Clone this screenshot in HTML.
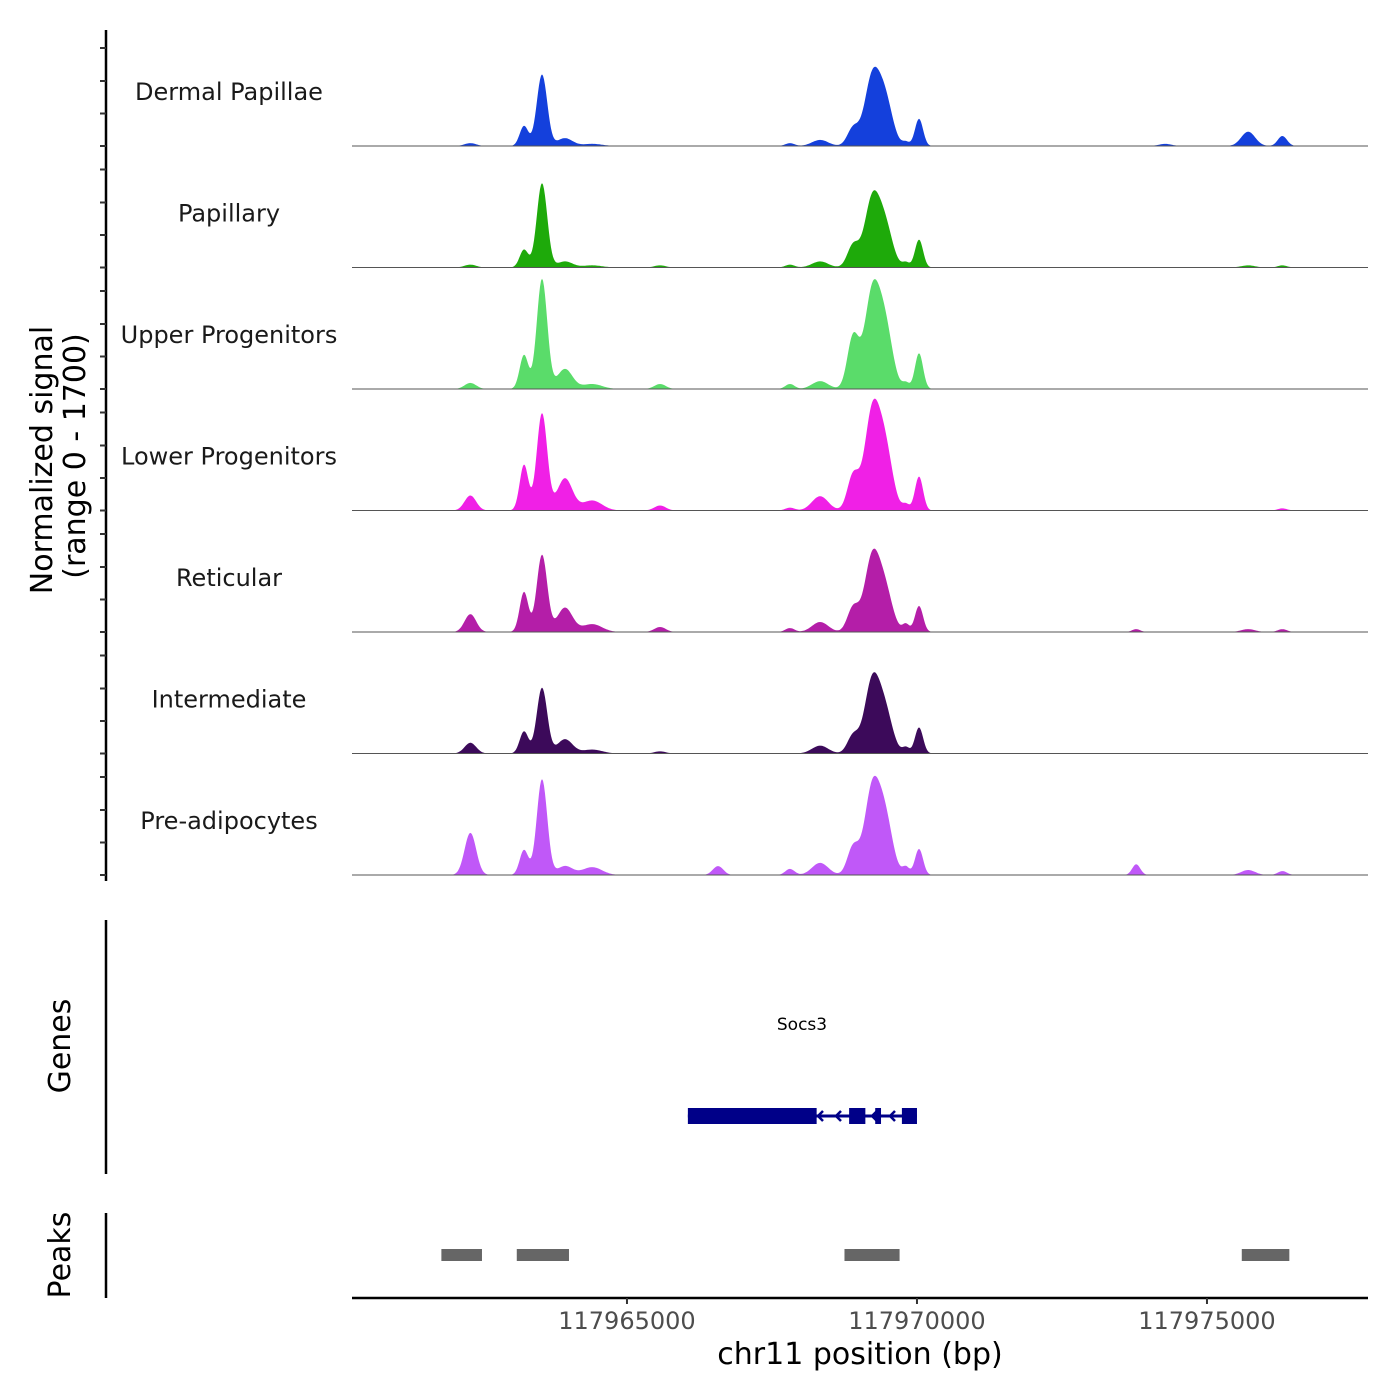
<!DOCTYPE html>
<html><head><meta charset="utf-8"><style>
body{margin:0;background:#fff}
svg{display:block;font-family:"DejaVu Sans","Liberation Sans",sans-serif}
</style></head><body>
<svg id="c" width="1400" height="1400" xmlns="http://www.w3.org/2000/svg"></svg>
<script>
const tracks=["Dermal Papillae","Papillary","Upper Progenitors","Lower Progenitors","Reticular","Intermediate","Pre-adipocytes"];
const colors=["#1440dc","#1eaa0a","#5adc6a","#f020e6","#b41ea8","#3c0a5a","#c058f8"];
const peakPos=[117962300,117963225,117963535,117963930,117964400,117965570,117966570,117967810,117968330,117968900,117969225,117969450,117969810,117970035,117973780,117974280,117975710,117976300];
const peakWidth=[100,75,90,130,170,100,90,80,140,100,130,130,60,70,70,110,120,80];
const sigDP=[40,280,1000,110,30,0,0,40,85,250,920,630,55,380,0,30,200,140];
const sigPap=[40,250,1180,85,30,30,0,40,85,310,920,560,70,390,0,0,30,30];
const sigUP=[85,475,1540,280,70,70,0,70,110,730,1290,840,85,500,0,0,0,0];
const sigLP=[210,640,1360,450,140,70,0,40,200,490,1320,840,85,475,0,0,0,30];
const sigRet=[250,560,1080,340,110,70,0,55,140,340,1010,560,110,365,40,0,40,40];
const sigInt=[150,310,920,200,55,30,0,0,110,250,980,560,85,365,0,0,0,0];
const sigPre=[590,350,1340,125,110,0,125,85,170,390,1160,770,110,365,150,0,70,55];
const signals=[sigDP,sigPap,sigUP,sigLP,sigRet,sigInt,sigPre];
const xTicks=[117965000,117970000,117975000];
const peakStart=[117961800,117963100,117968750,117975600];
const peakEnd=[117962500,117964000,117969700,117976420];
const geneExonStart=[117966050,117968830,117969280,117969740];
const geneExonEnd=[117968270,117969110,117969380,117970000];
const geneStart=117966050, geneEnd=117970000;

const NS="http://www.w3.org/2000/svg";
const svg=document.getElementById('c');
function el(t,a,p){const e=document.createElementNS(NS,t);for(const k in a)e.setAttribute(k,a[k]);(p||svg).appendChild(e);return e;}
const x0=352,x1=1368,bp0=117960259,pxPerBp=0.058;
const X=bp=>x0+(bp-bp0)*pxPerBp;
const trackH=121.5, base0=146, maxV=1700;
const Y=(i,v)=>base0+i*trackH - v/maxV*trackH;

let a=el('line',{x1:106,y1:30,x2:106,y2:881,stroke:'#000','stroke-width':2.5});

for(let i=0;i<7;i++){for(const o of [0,32.5,65,98]){let t=el('line',{x1:100,y1:base0+i*trackH-o,x2:106,y2:base0+i*trackH-o,stroke:'#333','stroke-width':2});
}}
let yt=el('text',{x:0,y:0,transform:'translate(52,460) rotate(-90)','text-anchor':'middle','font-size':30,fill:'#000'});yt.textContent='Normalized signal';

let yt2=el('text',{x:0,y:0,transform:'translate(85,456) rotate(-90)','text-anchor':'middle','font-size':30,fill:'#000'});yt2.textContent='(range 0 - 1700)';


tracks.forEach((name,i)=>{
  const s=signals[i];
  let d=`M${x0},${Y(i,0)}`;
  for(let px=x0;px<=x1;px+=1){
    const bp=bp0+(px-x0)/pxPerBp;let v=0;
    for(let k=0;k<peakPos.length;k++){const z=(bp-peakPos[k])/peakWidth[k];v+=s[k]*Math.exp(-0.5*z*z);}
    d+=`L${px},${Y(i,Math.min(v,maxV)).toFixed(1)}`;
  }
  d+=`L${x1},${Y(i,0)}Z`;
  let p=el('path',{d,fill:colors[i]});
  
  let bl=el('line',{x1:x0,y1:Y(i,0),x2:x1,y2:Y(i,0),stroke:'#555','stroke-width':1});
  
  let lb=el('text',{x:229,y:Y(i,0)-46,'text-anchor':'middle','font-size':24,fill:'#1a1a1a'});lb.textContent=name;
  
});

let ga=el('line',{x1:106,y1:920,x2:106,y2:1174,stroke:'#000','stroke-width':2.5});

let gt=el('text',{x:0,y:0,transform:'translate(70,1046) rotate(-90)','text-anchor':'middle','font-size':30});gt.textContent='Genes';

let gl=el('line',{x1:X(geneStart),y1:1116,x2:X(geneEnd),y2:1116,stroke:'#000088','stroke-width':3});

geneExonStart.forEach((s,k)=>{let r=el('rect',{x:X(s),y:1108,width:X(geneExonEnd[k])-X(s),height:16,fill:'#000088'});
});
for(const ax of [818,836,872,890]){let ar=el('path',{d:`M${ax+5},1111L${ax},1116L${ax+5},1121`,stroke:'#000088','stroke-width':2.5,fill:'none'});
}
let gn=el('text',{x:802,y:1030,'text-anchor':'middle','font-size':17});gn.textContent='Socs3';


let pa=el('line',{x1:106,y1:1213,x2:106,y2:1298,stroke:'#000','stroke-width':2.5});

let pt=el('text',{x:0,y:0,transform:'translate(70,1255) rotate(-90)','text-anchor':'middle','font-size':30});pt.textContent='Peaks';

peakStart.forEach((s,k)=>{let r=el('rect',{x:X(s),y:1249,width:X(peakEnd[k])-X(s),height:12,fill:'#666'});
});

let xa=el('line',{x1:x0,y1:1298,x2:x1,y2:1298,stroke:'#000','stroke-width':2.5});

xTicks.forEach(t=>{let tk=el('line',{x1:X(t),y1:1298,x2:X(t),y2:1304,stroke:'#333','stroke-width':2});

let tl=el('text',{x:X(t),y:1329,'text-anchor':'middle','font-size':24,fill:'#4d4d4d'});tl.textContent=t;
});
let xt=el('text',{x:860,y:1364,'text-anchor':'middle','font-size':30});xt.textContent='chr11 position (bp)';

</script>
</body></html>
